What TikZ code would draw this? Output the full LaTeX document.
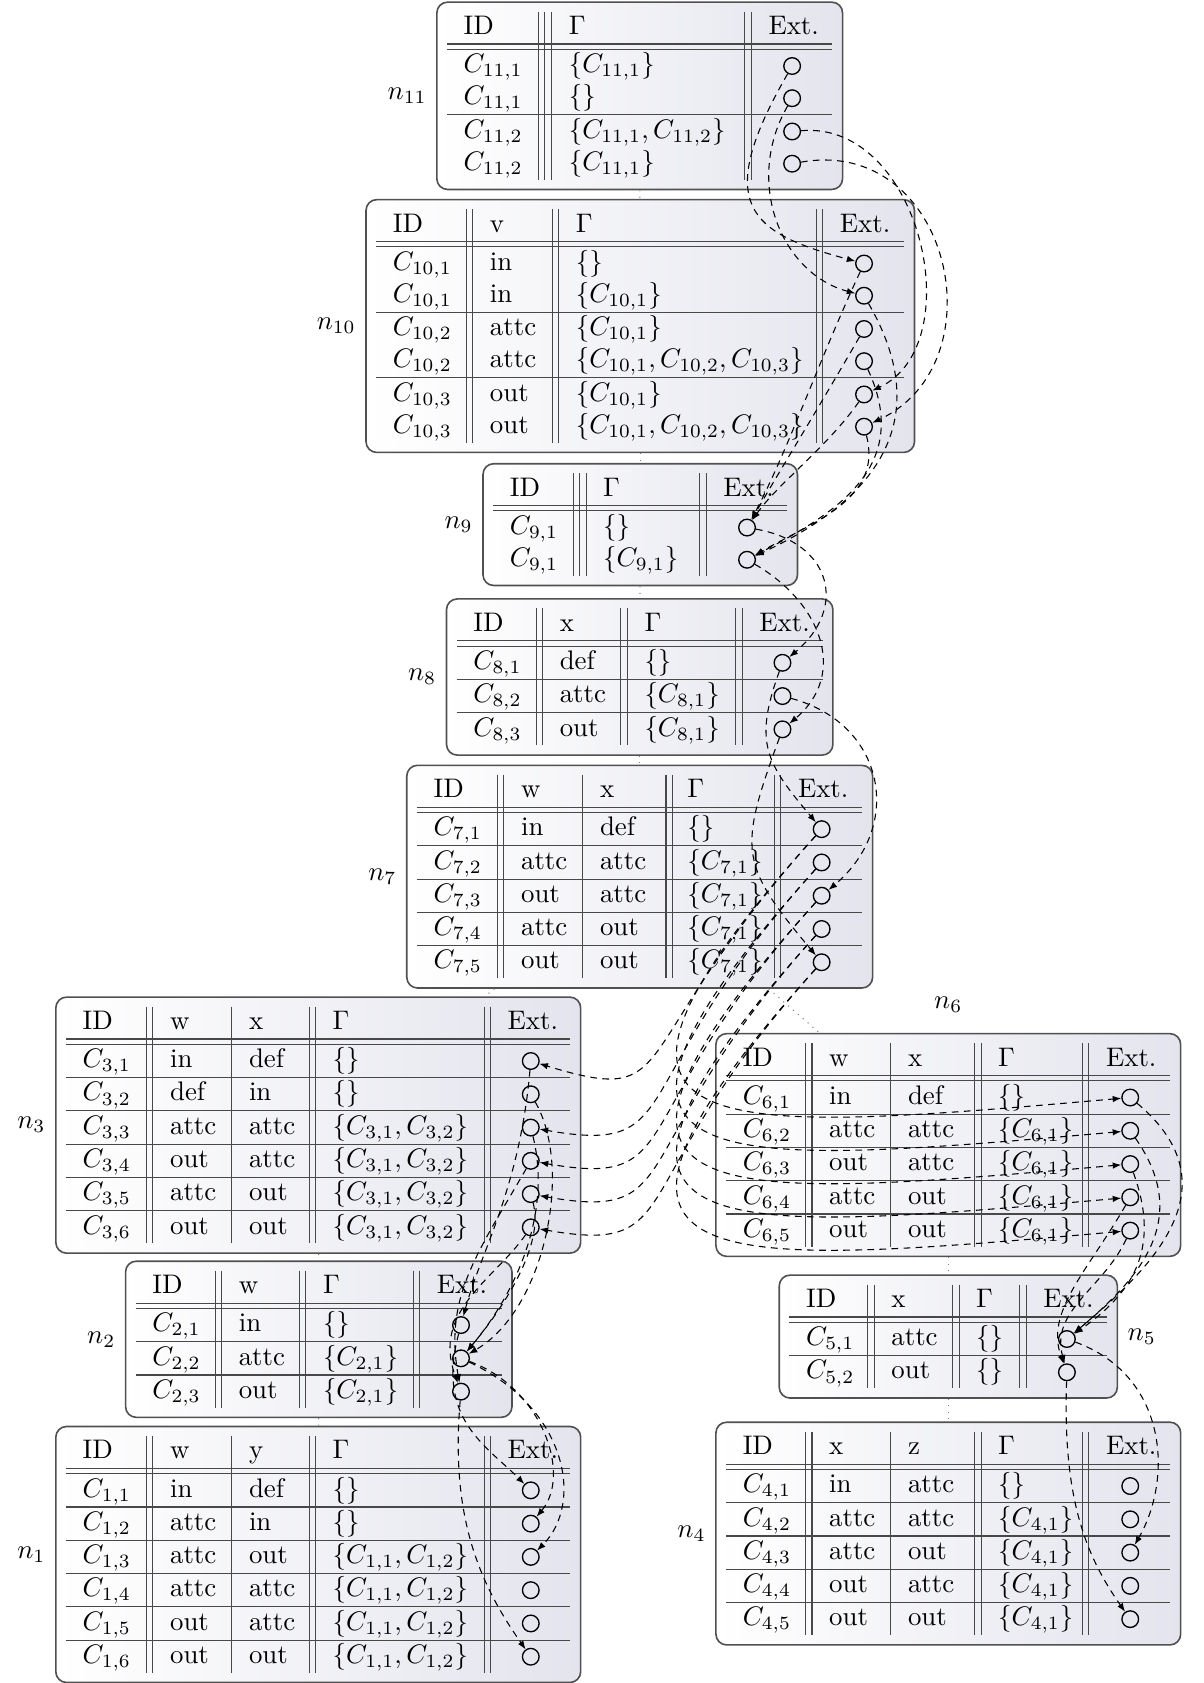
\documentclass[tikz,border=0pt]{standalone}
\usepackage{amsmath}
\usepackage{tikz}
\usetikzlibrary{arrows.meta,fit}
\definecolor{bagEdge}{HTML}{505050}
\definecolor{bagShade}{HTML}{E3E4ED}
\definecolor{ruleGray}{HTML}{484848}

\begin{document}
\begin{tikzpicture}[
    x=0.4pt, y=0.4pt,
    bagtable/.style={draw=bagEdge, line width=0.6pt, rounded corners=4pt,
                     left color=white, right color=bagShade, inner sep=0pt,
                     label distance=4pt},
    bagrule/.style={ruleGray, line width=0.4pt},
    cell/.style={anchor=base west, inner sep=0pt, yshift=-2.5pt},
    extpoint/.style={circle, draw, line width=0.5pt, inner sep=0pt,
                     minimum size=6.2pt},
    treeline/.style={gray, dotted, line width=0.4pt},
    extptr/.style={line width=0.4pt, dash pattern=on 2.5pt off 2pt,
                   -{Latex[length=3.2pt,width=2.4pt]}}
  ]
  \useasboundingbox (0,0) rectangle (1121,-1568);

  % ---------- n11 (root)
  \node[bagtable, fit={(407,-2) (785,-176.5)}, label={left:$n_{11}$}] (n11) {};
  \foreach \xx in {501.5,507.5,513.5,694,700}
    \draw[bagrule] (\xx,-10.75) -- (\xx,-167.5);
  \foreach \yy in {41,46,107}
    \draw[bagrule] (416.5,-\yy) -- (775.5,-\yy);
  \foreach \xx/\tx in {431.5/ID,529.5/$\Gamma$,715.5/Ext.}
    \node[cell] at (\xx,-26) {\tx};
  \foreach \yy/\id/\g [count=\i] in {61.5/{11,1}/{$\{C_{11,1}\}$},
      91.5/{11,1}/{$\{\}$}, 122.5/{11,2}/{$\{C_{11,1},C_{11,2}\}$},
      152.5/{11,2}/{$\{C_{11,1}\}$}} {
    \node[cell] at (431.5,-\yy) {$C_{\id}$};
    \node[cell] at (529.5,-\yy) {\g};
    \node[extpoint] (c11-\i) at (738,-\yy) {};
  }

  % ---------- n10
  \node[bagtable, fit={(341,-186) (852,-421.5)}, label={left:$n_{10}$}] (n10) {};
  \foreach \xx in {434.5,440.5,514.5,520.5,760.5,766.5}
    \draw[bagrule] (\xx,-194.75) -- (\xx,-412.5);
  \foreach \yy in {225,230,291,352}
    \draw[bagrule] (350.5,-\yy) -- (842.5,-\yy);
  \foreach \xx/\tx in {365.5/ID,456/v,536/$\Gamma$,782/Ext.}
    \node[cell] at (\xx,-210) {\tx};
  \foreach \yy/\id/\v/\g [count=\i] in {245.5/{10,1}/in/{$\{\}$},
      275.5/{10,1}/in/{$\{C_{10,1}\}$}, 306.5/{10,2}/attc/{$\{C_{10,1}\}$},
      336.5/{10,2}/attc/{$\{C_{10,1},C_{10,2},C_{10,3}\}$},
      367.5/{10,3}/out/{$\{C_{10,1}\}$},
      397.5/{10,3}/out/{$\{C_{10,1},C_{10,2},C_{10,3}\}$}} {
    \node[cell] at (365.5,-\yy) {$C_{\id}$};
    \node[cell] at (456,-\yy) {\v};
    \node[cell] at (536,-\yy) {\g};
    \node[extpoint] (c10-\i) at (805,-\yy) {};
  }

  % ---------- n9
  \node[bagtable, fit={(450,-432) (743,-545.5)}, label={left:$n_9$}] (n9) {};
  \foreach \xx in {534,540,546,652,658}
    \draw[bagrule] (\xx,-440.75) -- (\xx,-536.5);
  \foreach \yy in {471,476}
    \draw[bagrule] (459.5,-\yy) -- (733.5,-\yy);
  \foreach \xx/\tx in {474.5/ID,561.5/$\Gamma$,673.5/Ext.}
    \node[cell] at (\xx,-456) {\tx};
  \foreach \yy/\g [count=\i] in {491.5/{$\{\}$}, 521.5/{$\{C_{9,1}\}$}} {
    \node[cell] at (474.5,-\yy) {$C_{9,1}$};
    \node[cell] at (561.5,-\yy) {\g};
    \node[extpoint] (c9-\i) at (696,-\yy) {};
  }

  % ---------- n8
  \node[bagtable, fit={(416,-558) (776,-703.5)}, label={left:$n_8$}] (n8) {};
  \foreach \xx in {499.5,505.5,578.5,584.5,685.5,691.5}
    \draw[bagrule] (\xx,-566.75) -- (\xx,-694.5);
  \foreach \yy in {597,602,633,664}
    \draw[bagrule] (425.5,-\yy) -- (766.5,-\yy);
  \foreach \xx/\tx in {440.5/ID,521/x,600/$\Gamma$,707/Ext.}
    \node[cell] at (\xx,-582) {\tx};
  \foreach \yy/\x/\g [count=\i] in {617.5/def/{$\{\}$},
      648.5/attc/{$\{C_{8,1}\}$}, 679.5/out/{$\{C_{8,1}\}$}} {
    \node[cell] at (440.5,-\yy) {$C_{8,\i}$};
    \node[cell] at (521,-\yy) {\x};
    \node[cell] at (600,-\yy) {\g};
    \node[extpoint] (c8-\i) at (729,-\yy) {};
  }

  % ---------- n7 (join)
  \node[bagtable, fit={(379,-713) (813,-920.5)}, label={left:$n_7$}] (n7) {};
  \foreach \xx in {463.5,469.5,543,620.5,626.5,721.5,727.5}
    \draw[bagrule] (\xx,-721.75) -- (\xx,-911.5);
  \foreach \yy in {752,757,788,819,850,881}
    \draw[bagrule] (388.5,-\yy) -- (803.5,-\yy);
  \foreach \xx/\tx in {403.5/ID,485/w,558.5/x,640/$\Gamma$,743/Ext.}
    \node[cell] at (\xx,-737) {\tx};
  \foreach \yy/\w/\x/\g [count=\i] in {772.5/in/def/{$\{\}$},
      803.5/attc/attc/{$\{C_{7,1}\}$}, 834.5/out/attc/{$\{C_{7,1}\}$},
      865.5/attc/out/{$\{C_{7,1}\}$}, 896.5/out/out/{$\{C_{7,1}\}$}} {
    \node[cell] at (403.5,-\yy) {$C_{7,\i}$};
    \node[cell] at (485,-\yy) {\w};
    \node[cell] at (558.5,-\yy) {\x};
    \node[cell] at (640,-\yy) {\g};
    \node[extpoint] (c7-\i) at (765.5,-\yy) {};
  }

  % ---------- n3
  \node[bagtable, fit={(52,-929) (541,-1167.5)}, label={left:$n_3$}] (n3) {};
  \foreach \xx in {136.5,142.5,216,288,294,451,457}
    \draw[bagrule] (\xx,-937.75) -- (\xx,-1158.5);
  \foreach \yy in {968,973,1004,1035,1066,1097,1128}
    \draw[bagrule] (61.5,-\yy) -- (531.5,-\yy);
  \foreach \xx/\tx in {76.5/ID,158/w,231.5/x,309.5/$\Gamma$,472.5/Ext.}
    \node[cell] at (\xx,-953) {\tx};
  \foreach \yy/\w/\x/\g [count=\i] in {988.5/in/def/{$\{\}$},
      1019.5/def/in/{$\{\}$}, 1050.5/attc/attc/{$\{C_{3,1},C_{3,2}\}$},
      1081.5/out/attc/{$\{C_{3,1},C_{3,2}\}$},
      1112.5/attc/out/{$\{C_{3,1},C_{3,2}\}$},
      1143.5/out/out/{$\{C_{3,1},C_{3,2}\}$}} {
    \node[cell] at (76.5,-\yy) {$C_{3,\i}$};
    \node[cell] at (158,-\yy) {\w};
    \node[cell] at (231.5,-\yy) {\x};
    \node[cell] at (309.5,-\yy) {\g};
    \node[extpoint] (c3-\i) at (494.5,-\yy) {};
  }

  % ---------- n6
  \node[bagtable, fit={(667,-963) (1100,-1170.5)},
        label={[yshift=4pt]above:$n_6$}] (n6) {};
  \foreach \xx in {750.5,756.5,830,908,914,1008.5,1014.5}
    \draw[bagrule] (\xx,-971.75) -- (\xx,-1161.5);
  \foreach \yy in {1002,1007,1038,1069,1100,1131}
    \draw[bagrule] (676.5,-\yy) -- (1090.5,-\yy);
  \foreach \xx/\tx in {691.5/ID,772/w,845.5/x,929.5/$\Gamma$,1030/Ext.}
    \node[cell] at (\xx,-987) {\tx};
  \foreach \yy/\w/\x/\g [count=\i] in {1022.5/in/def/{$\{\}$},
      1053.5/attc/attc/{$\{C_{6,1}\}$}, 1084.5/out/attc/{$\{C_{6,1}\}$},
      1115.5/attc/out/{$\{C_{6,1}\}$}, 1146.5/out/out/{$\{C_{6,1}\}$}} {
    \node[cell] at (691.5,-\yy) {$C_{6,\i}$};
    \node[cell] at (772,-\yy) {\w};
    \node[cell] at (845.5,-\yy) {\x};
    \node[cell] at (929.5,-\yy) {\g};
    \node[extpoint] (c6-\i) at (1053,-\yy) {};
  }

  % ---------- n2
  \node[bagtable, fit={(117,-1175) (477,-1320.5)}, label={left:$n_2$}] (n2) {};
  \foreach \xx in {200.5,206.5,279,285,385,391}
    \draw[bagrule] (\xx,-1183.75) -- (\xx,-1311.5);
  \foreach \yy in {1214,1219,1250,1281}
    \draw[bagrule] (126.5,-\yy) -- (467.5,-\yy);
  \foreach \xx/\tx in {141.5/ID,222/w,300.5/$\Gamma$,406.5/Ext.}
    \node[cell] at (\xx,-1199) {\tx};
  \foreach \yy/\w/\g [count=\i] in {1234.5/in/{$\{\}$},
      1265.5/attc/{$\{C_{2,1}\}$}, 1296.5/out/{$\{C_{2,1}\}$}} {
    \node[cell] at (141.5,-\yy) {$C_{2,\i}$};
    \node[cell] at (222,-\yy) {\w};
    \node[cell] at (300.5,-\yy) {\g};
    \node[extpoint] (c2-\i) at (429.5,-\yy) {};
  }

  % ---------- n5
  \node[bagtable, fit={(726,-1188) (1041,-1302.5)}, label={right:$n_5$}] (n5) {};
  \foreach \xx in {808.5,814.5,887.5,893.5,950,956}
    \draw[bagrule] (\xx,-1196.75) -- (\xx,-1293.5);
  \foreach \yy in {1227,1232,1263}
    \draw[bagrule] (735.5,-\yy) -- (1031.5,-\yy);
  \foreach \xx/\tx in {750.5/ID,830/x,909/$\Gamma$,971.5/Ext.}
    \node[cell] at (\xx,-1212) {\tx};
  \foreach \yy/\x [count=\i] in {1247.5/attc, 1278.5/out} {
    \node[cell] at (750.5,-\yy) {$C_{5,\i}$};
    \node[cell] at (830,-\yy) {\x};
    \node[cell] at (909,-\yy) {$\{\}$};
    \node[extpoint] (c5-\i) at (994,-\yy) {};
  }

  % ---------- n1 (leaf)
  \node[bagtable, fit={(52,-1329) (541,-1567.5)}, label={left:$n_1$}] (n1) {};
  \foreach \xx in {136.5,142.5,216,288,294,451,457}
    \draw[bagrule] (\xx,-1337.75) -- (\xx,-1558.5);
  \foreach \yy in {1368,1373,1404,1435,1466,1497,1528}
    \draw[bagrule] (61.5,-\yy) -- (531.5,-\yy);
  \foreach \xx/\tx in {76.5/ID,158/w,231.5/y,309.5/$\Gamma$,472.5/Ext.}
    \node[cell] at (\xx,-1353) {\tx};
  \foreach \yy/\w/\y/\g [count=\i] in {1388.5/in/def/{$\{\}$},
      1419.5/attc/in/{$\{\}$}, 1450.5/attc/out/{$\{C_{1,1},C_{1,2}\}$},
      1481.5/attc/attc/{$\{C_{1,1},C_{1,2}\}$},
      1512.5/out/attc/{$\{C_{1,1},C_{1,2}\}$},
      1543.5/out/out/{$\{C_{1,1},C_{1,2}\}$}} {
    \node[cell] at (76.5,-\yy) {$C_{1,\i}$};
    \node[cell] at (158,-\yy) {\w};
    \node[cell] at (231.5,-\yy) {\y};
    \node[cell] at (309.5,-\yy) {\g};
    \node[extpoint] (c1-\i) at (494.5,-\yy) {};
  }

  % ---------- n4 (leaf)
  \node[bagtable, fit={(667,-1325) (1100,-1532.5)}, label={left:$n_4$}] (n4) {};
  \foreach \xx in {750.5,756.5,830,908,914,1008.5,1014.5}
    \draw[bagrule] (\xx,-1333.75) -- (\xx,-1523.5);
  \foreach \yy in {1364,1369,1400,1431,1462,1493}
    \draw[bagrule] (676.5,-\yy) -- (1090.5,-\yy);
  \foreach \xx/\tx in {691.5/ID,772/x,845.5/z,929.5/$\Gamma$,1030/Ext.}
    \node[cell] at (\xx,-1349) {\tx};
  \foreach \yy/\x/\z/\g [count=\i] in {1384.5/in/attc/{$\{\}$},
      1415.5/attc/attc/{$\{C_{4,1}\}$}, 1446.5/attc/out/{$\{C_{4,1}\}$},
      1477.5/out/attc/{$\{C_{4,1}\}$}, 1508.5/out/out/{$\{C_{4,1}\}$}} {
    \node[cell] at (691.5,-\yy) {$C_{4,\i}$};
    \node[cell] at (772,-\yy) {\x};
    \node[cell] at (845.5,-\yy) {\z};
    \node[cell] at (929.5,-\yy) {\g};
    \node[extpoint] (c4-\i) at (1053,-\yy) {};
  }

  % tree edges
  \foreach \a/\b in {n11/n10,n10/n9,n9/n8,n8/n7,n7/n3,n7/n6,n3/n2,n2/n1,n6/n5,n5/n4}
    \draw[treeline] (\a) -- (\b);

  % pointers n11 -> n10
  \draw[extptr] (c11-1) .. controls +(240:150) and +(165:110) .. (c10-1);
  \draw[extptr] (c11-2) .. controls +(240:90) and +(165:80) .. (c10-2);
  \draw[extptr] (c11-3) .. controls +(5:120) and +(25:110) .. (c10-5);
  \draw[extptr] (c11-4) .. controls +(10:150) and +(25:140) .. (c10-6);
  % n10 -> n9
  \foreach \i/\a/\b/\la/\lb in {1/245/62/100/80,3/240/60/90/70,5/235/55/60/50}
    \draw[extptr] (c10-\i) .. controls +(\a:\la) and +(\b:\lb) .. (c9-1);
  \foreach \i/\a/\b/\la/\lb in {2/300/25/150/110,4/295/28/110/90,6/285/30/70/70}
    \draw[extptr] (c10-\i) .. controls +(\a:\la) and +(\b:\lb) .. (c9-2);
  % n9 -> n8
  \draw[extptr] (c9-1) .. controls +(350:80) and +(40:80) .. (c8-1);
  \draw[extptr] (c9-2) .. controls +(330:80) and +(40:80) .. (c8-3);
  % n8 -> n7
  \draw[extptr] (c8-1) .. controls +(250:80) and +(130:80) .. (c7-1);
  \draw[extptr] (c8-2) .. controls +(345:100) and +(40:100) .. (c7-3);
  \draw[extptr] (c8-3) .. controls +(250:120) and +(130:120) .. (c7-5);
  % n7 -> n6 and n7 -> n3
  \foreach \i in {1,...,5}
    \draw[extptr] (c7-\i) .. controls +(228:400) and +(185:400) .. (c6-\i);
  \foreach \i/\j/\b in {1/1/343,2/3/350,3/4/350,4/5/350,5/6/350}
    \draw[extptr] (c7-\i) .. controls +(228:280) and +(\b:150) .. (c3-\j);
  % n3 -> n2
  \draw[extptr] (c3-1) .. controls +(265:120) and +(75:70) .. (c2-1);
  \draw[extptr] (c3-2) .. controls +(300:80) and +(30:90) .. (c2-2);
  \draw[extptr] (c3-3) .. controls +(284:82) and +(50:80) .. (c2-2);
  \draw[extptr] (c3-5) .. controls +(285:50) and +(50:60) .. (c2-2);
  \draw[extptr] (c3-4) .. controls +(240:100) and +(100:90) .. (c2-3);
  \draw[extptr] (c3-6) .. controls +(235:60) and +(110:80) .. (c2-3);
  % n2 -> n1
  \draw[extptr] (c2-1) .. controls +(255:90) and +(135:60) .. (c1-1);
  \draw[extptr] (c2-2) .. controls +(340:80) and +(50:60) .. (c1-2);
  \draw[extptr] (c2-2) .. controls +(335:110) and +(45:70) .. (c1-3);
  \draw[extptr] (c2-3) .. controls +(265:120) and +(125:80) .. (c1-6);
  % n6 -> n5
  \draw[extptr] (c6-1) .. controls +(320:130) and +(40:100) .. (c5-1);
  \draw[extptr] (c6-2) .. controls +(305:100) and +(40:90) .. (c5-1);
  \draw[extptr] (c6-3) .. controls +(290:80) and +(35:80) .. (c5-1);
  \draw[extptr] (c6-4) .. controls +(240:80) and +(110:60) .. (c5-2);
  \draw[extptr] (c6-5) .. controls +(245:60) and +(105:60) .. (c5-2);
  % n5 -> n4
  \draw[extptr] (c5-1) .. controls +(340:100) and +(60:80) .. (c4-3);
  \draw[extptr] (c5-2) .. controls +(268:120) and +(125:70) .. (c4-5);
\end{tikzpicture}
\end{document}
